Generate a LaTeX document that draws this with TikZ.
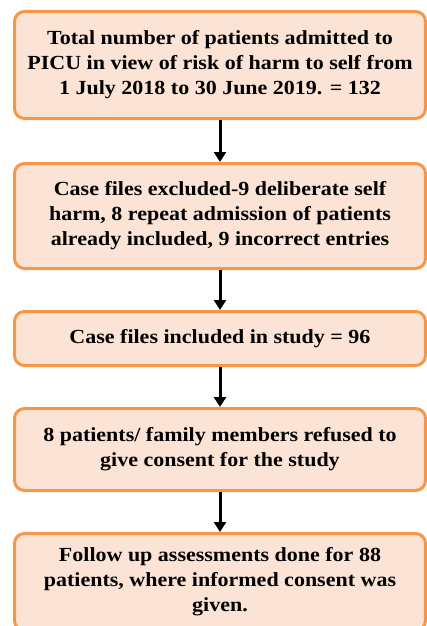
\documentclass[tikz,border=0pt]{standalone}
\usepackage{fontspec}
\setmainfont{Liberation Serif}[FakeStretch=1.1]
\usetikzlibrary{arrows.meta}

\definecolor{boxline}{RGB}{247,150,70}
\definecolor{boxfill}{RGB}{251,228,213}

\tikzset{
  flowbox/.style={draw=boxline,fill=boxfill,line width=3pt,rounded corners=10pt,
    minimum width=411pt,inner sep=0pt,align=center,
    font=\fontsize{20}{25}\selectfont\bfseries},
  flowarrow/.style={-{Triangle[length=10pt,width=12pt]},line width=3pt,black}
}

\begin{document}
\begin{tikzpicture}[line join=round,x=1pt,y=1pt]

\useasboundingbox (0,0) rectangle (427,-626);
\clip (0,0) rectangle (427,-626);

\node[flowbox,minimum height=107pt] (total) at (220,-65)
  {Total number of patients admitted to\\PICU in view of risk of harm to self from\\1 July 2018 to 30 June 2019. = 132};
\node[flowbox,minimum height=105pt] (excluded) at (220,-216)
  {Case files excluded-9 deliberate self\\harm, 8 repeat admission of patients\\already included, 9 incorrect entries};
\node[flowbox,minimum height=54pt] (included) at (220,-338.5)
  {Case files included in study = 96};
\node[flowbox,minimum height=82pt] (refused) at (220,-449.5)
  {8 patients/ family members refused to\\give consent for the study};
\node[flowbox,minimum height=97pt] (followup) at (220,-582)
  {Follow up assessments done for 88\\patients, where informed consent was\\given.};

\draw[flowarrow] (total) -- (excluded);
\draw[flowarrow] (excluded) -- (included);
\draw[flowarrow] (included) -- (refused);
\draw[flowarrow] (refused) -- (followup);

\end{tikzpicture}
\end{document}
